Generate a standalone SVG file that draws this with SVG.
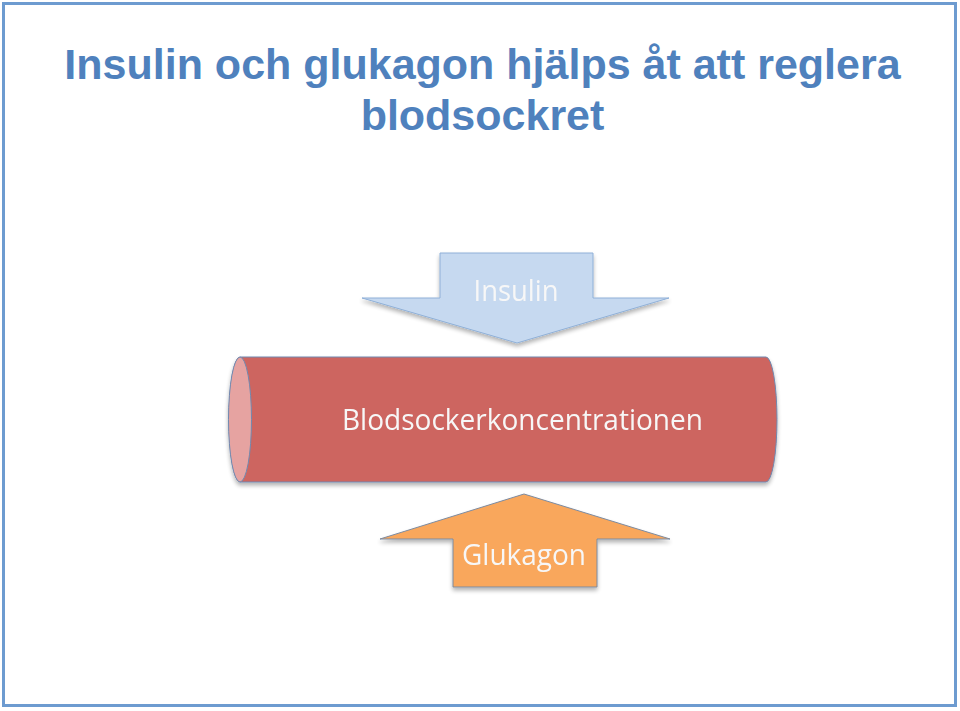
<svg xmlns="http://www.w3.org/2000/svg" width="960" height="711" viewBox="0 0 960 711">
<style>
.title{font-family:"Liberation Sans",Arial,sans-serif;font-weight:bold;font-size:43px;fill:#4f81bd;text-anchor:middle}
.lbl{font-family:"Open Sans","Noto Sans",sans-serif;font-size:29px;fill:#f7f7f7;text-anchor:middle}
</style>
<defs>
<filter id="sh" x="-10%" y="-10%" width="120%" height="130%">
<feGaussianBlur in="SourceAlpha" stdDeviation="2"/>
<feOffset dx="0" dy="3" result="b"/>
<feComponentTransfer><feFuncA type="linear" slope="0.3"/></feComponentTransfer>
<feMerge><feMergeNode/><feMergeNode in="SourceGraphic"/></feMerge>
</filter>
</defs>
<rect x="0" y="0" width="960" height="711" fill="#ffffff"/>
<rect id="frame" x="3.5" y="3.5" width="952" height="702" fill="none" stroke="#6d9bd0" stroke-width="3"/>
<g id="title">
<text class="title" x="482.5" y="79">Insulin och glukagon hjälps åt att reglera</text>
<text class="title" x="482.5" y="130">blodsockret</text>
</g>
<g id="insulin" filter="url(#sh)">
<polygon points="440,253 593,253 593,298 669,298 517,343 362,298 440,298" fill="#c6d9f0" stroke="#8fb0d8" stroke-width="1"/>
<text class="lbl" x="516" y="301" textLength="85" lengthAdjust="spacingAndGlyphs">Insulin</text>
</g>
<g id="blodsocker" filter="url(#sh)">
<path d="M240,357 L766,357 A11,62.5 0 0 1 766,482 L240,482 A11,62.5 0 0 1 240,357 Z" fill="#cd6560" stroke="#7089b0" stroke-width="1"/>
<ellipse cx="240" cy="419.5" rx="11.5" ry="62.5" fill="#e6a3a1" stroke="#7089b0" stroke-width="1"/>
<text class="lbl" x="522.5" y="430" textLength="361" lengthAdjust="spacingAndGlyphs">Blodsockerkoncentrationen</text>
</g>
<g id="glukagon" filter="url(#sh)">
<polygon points="524,494 670,539 597,539 597,587 453,587 453,539 380,539" fill="#f9a75b" stroke="#7d8ba0" stroke-width="1"/>
<text class="lbl" x="524" y="565" textLength="124" lengthAdjust="spacingAndGlyphs">Glukagon</text>
</g>
<g id="connectors"></g>
</svg>
